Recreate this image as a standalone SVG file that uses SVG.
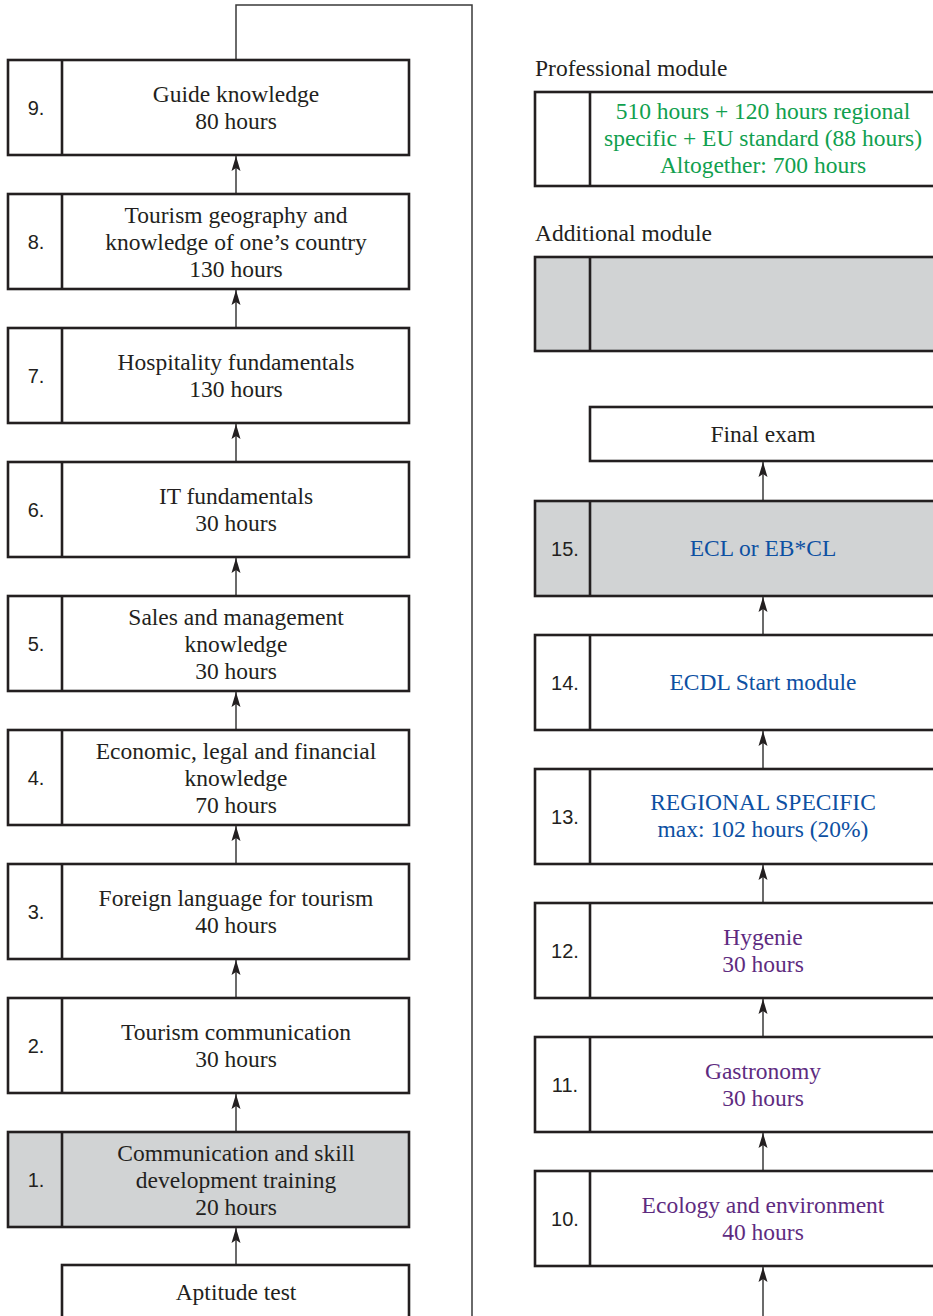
<svg xmlns="http://www.w3.org/2000/svg" width="933" height="1316" viewBox="0 0 933 1316">
<style>
.box{fill:#fff;stroke:#231f20;stroke-width:2.6}
.gray{fill:#d1d3d4}
.div{stroke:#231f20;stroke-width:2.6}
.t{font-family:"Liberation Serif","Times New Roman",serif;font-size:23.5px;fill:#231f20;text-anchor:middle}
.h{font-family:"Liberation Serif","Times New Roman",serif;font-size:23.5px;fill:#231f20}
.n{font-family:"Liberation Sans",Arial,sans-serif;font-size:20px;fill:#231f20;text-anchor:middle}
.g{fill:#10a04e}
.b{fill:#0d50a2}
.p{fill:#5e2b7f}
.c{fill:none;stroke:#3a3a3a;stroke-width:1.5}
</style>
<defs>
<marker id="arr" markerUnits="userSpaceOnUse" markerWidth="18" markerHeight="12" viewBox="-16 -6 17 12" refX="0" refY="0" orient="auto">
<path d="M0,0 L-15,-4.5 L-12,0 L-15,4.5 Z" fill="#231f20"/>
</marker>
</defs>
<g id="connectors">
<polyline class="c" points="236,60 236,5 472,5 472,1316"/>
<line class="c" x1="236" y1="194" x2="236" y2="156" marker-end="url(#arr)"/>
<line class="c" x1="236" y1="328" x2="236" y2="290" marker-end="url(#arr)"/>
<line class="c" x1="236" y1="462" x2="236" y2="424" marker-end="url(#arr)"/>
<line class="c" x1="236" y1="596" x2="236" y2="558" marker-end="url(#arr)"/>
<line class="c" x1="236" y1="730" x2="236" y2="692" marker-end="url(#arr)"/>
<line class="c" x1="236" y1="864" x2="236" y2="826" marker-end="url(#arr)"/>
<line class="c" x1="236" y1="998" x2="236" y2="960" marker-end="url(#arr)"/>
<line class="c" x1="236" y1="1132" x2="236" y2="1094" marker-end="url(#arr)"/>
<line class="c" x1="236" y1="1265" x2="236" y2="1228" marker-end="url(#arr)"/>
<line class="c" x1="763" y1="501" x2="763" y2="462" marker-end="url(#arr)"/>
<line class="c" x1="763" y1="635" x2="763" y2="597" marker-end="url(#arr)"/>
<line class="c" x1="763" y1="769" x2="763" y2="731" marker-end="url(#arr)"/>
<line class="c" x1="763" y1="903" x2="763" y2="865" marker-end="url(#arr)"/>
<line class="c" x1="763" y1="1037" x2="763" y2="999" marker-end="url(#arr)"/>
<line class="c" x1="763" y1="1171" x2="763" y2="1133" marker-end="url(#arr)"/>
<line class="c" x1="763" y1="1316" x2="763" y2="1267" marker-end="url(#arr)"/>
</g>
<g id="n9"><rect class="box" x="8" y="60" width="401" height="95"/><line class="div" x1="62" y1="60" x2="62" y2="155"/><text class="n" x="36" y="115">9.</text><text class="t" x="236" y="102">Guide knowledge</text><text class="t" x="236" y="129">80 hours</text></g>
<g id="n8"><rect class="box" x="8" y="194" width="401" height="95"/><line class="div" x1="62" y1="194" x2="62" y2="289"/><text class="n" x="36" y="249">8.</text><text class="t" x="236" y="223">Tourism geography and</text><text class="t" x="236" y="250">knowledge of one’s country</text><text class="t" x="236" y="277">130 hours</text></g>
<g id="n7"><rect class="box" x="8" y="328" width="401" height="95"/><line class="div" x1="62" y1="328" x2="62" y2="423"/><text class="n" x="36" y="383">7.</text><text class="t" x="236" y="370">Hospitality fundamentals</text><text class="t" x="236" y="397">130 hours</text></g>
<g id="n6"><rect class="box" x="8" y="462" width="401" height="95"/><line class="div" x1="62" y1="462" x2="62" y2="557"/><text class="n" x="36" y="517">6.</text><text class="t" x="236" y="504">IT fundamentals</text><text class="t" x="236" y="531">30 hours</text></g>
<g id="n5"><rect class="box" x="8" y="596" width="401" height="95"/><line class="div" x1="62" y1="596" x2="62" y2="691"/><text class="n" x="36" y="651">5.</text><text class="t" x="236" y="625">Sales and management</text><text class="t" x="236" y="652">knowledge</text><text class="t" x="236" y="679">30 hours</text></g>
<g id="n4"><rect class="box" x="8" y="730" width="401" height="95"/><line class="div" x1="62" y1="730" x2="62" y2="825"/><text class="n" x="36" y="785">4.</text><text class="t" x="236" y="759">Economic, legal and financial</text><text class="t" x="236" y="786">knowledge</text><text class="t" x="236" y="813">70 hours</text></g>
<g id="n3"><rect class="box" x="8" y="864" width="401" height="95"/><line class="div" x1="62" y1="864" x2="62" y2="959"/><text class="n" x="36" y="919">3.</text><text class="t" x="236" y="906">Foreign language for tourism</text><text class="t" x="236" y="933">40 hours</text></g>
<g id="n2"><rect class="box" x="8" y="998" width="401" height="95"/><line class="div" x1="62" y1="998" x2="62" y2="1093"/><text class="n" x="36" y="1053">2.</text><text class="t" x="236" y="1040">Tourism communication</text><text class="t" x="236" y="1067">30 hours</text></g>
<g id="n1"><rect class="box gray" x="8" y="1132" width="401" height="95"/><line class="div" x1="62" y1="1132" x2="62" y2="1227"/><text class="n" x="36" y="1187">1.</text><text class="t" x="236" y="1161">Communication and skill</text><text class="t" x="236" y="1188">development training</text><text class="t" x="236" y="1215">20 hours</text></g>
<g id="aptitude"><rect class="box" x="62" y="1265" width="347" height="60"/><text class="t" x="236" y="1300">Aptitude test</text></g>
<g id="professional"><text class="h" x="535" y="76">Professional module</text><rect class="box" x="535" y="92" width="405" height="94"/><line class="div" x1="590" y1="92" x2="590" y2="186"/><text class="t g" x="763" y="119">510 hours + 120 hours regional</text><text class="t g" x="763" y="146">specific + EU standard (88 hours)</text><text class="t g" x="763" y="173">Altogether: 700 hours</text></g>
<g id="additional"><text class="h" x="535" y="241">Additional module</text><rect class="box gray" x="535" y="257" width="405" height="94"/><line class="div" x1="590" y1="257" x2="590" y2="351"/></g>
<g id="final"><rect class="box" x="590" y="407" width="350" height="54"/><text class="t" x="763" y="442">Final exam</text></g>
<g id="n15"><rect class="box gray" x="535" y="501" width="405" height="95"/><line class="div" x1="590" y1="501" x2="590" y2="596"/><text class="n" x="565" y="556">15.</text><text class="t b" x="763" y="556">ECL or EB*CL</text></g>
<g id="n14"><rect class="box" x="535" y="635" width="405" height="95"/><line class="div" x1="590" y1="635" x2="590" y2="730"/><text class="n" x="565" y="690">14.</text><text class="t b" x="763" y="690">ECDL Start module</text></g>
<g id="n13"><rect class="box" x="535" y="769" width="405" height="95"/><line class="div" x1="590" y1="769" x2="590" y2="864"/><text class="n" x="565" y="824">13.</text><text class="t b" x="763" y="810">REGIONAL SPECIFIC</text><text class="t b" x="763" y="837">max: 102 hours (20%)</text></g>
<g id="n12"><rect class="box" x="535" y="903" width="405" height="95"/><line class="div" x1="590" y1="903" x2="590" y2="998"/><text class="n" x="565" y="958">12.</text><text class="t p" x="763" y="945">Hygenie</text><text class="t p" x="763" y="972">30 hours</text></g>
<g id="n11"><rect class="box" x="535" y="1037" width="405" height="95"/><line class="div" x1="590" y1="1037" x2="590" y2="1132"/><text class="n" x="565" y="1092">11.</text><text class="t p" x="763" y="1079">Gastronomy</text><text class="t p" x="763" y="1106">30 hours</text></g>
<g id="n10"><rect class="box" x="535" y="1171" width="405" height="95"/><line class="div" x1="590" y1="1171" x2="590" y2="1266"/><text class="n" x="565" y="1226">10.</text><text class="t p" x="763" y="1213">Ecology and environment</text><text class="t p" x="763" y="1240">40 hours</text></g>
</svg>
